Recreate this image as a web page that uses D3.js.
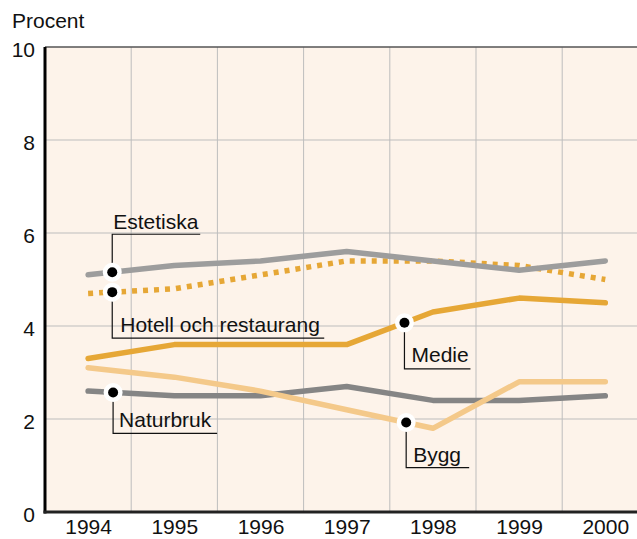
<!DOCTYPE html>
<html>
<head>
<meta charset="utf-8">
<script src="https://cdn.jsdelivr.net/npm/d3@7"></script>
<style>
  body { margin: 0; background: #fff; }
  svg { display: block; font-family: "Liberation Sans", Arial, sans-serif; }
</style>
</head>
<body>
<svg id="chart"></svg>
<script>
const width = 637;
const height = 539;

// data
const years = [1994, 1995, 1996, 1997, 1998, 1999, 2000];
const estetiska = [5.1, 5.3, 5.4, 5.6, 5.4, 5.2, 5.4];
const hotell = [4.7, 4.8, 5.1, 5.4, 5.4, 5.3, 5.0];
const medie = [3.3, 3.6, 3.6, 3.6, 4.3, 4.6, 4.5];
const bygg = [3.1, 2.9, 2.6, 2.2, 1.8, 2.8, 2.8];
const naturbruk = [2.6, 2.5, 2.5, 2.7, 2.4, 2.4, 2.5];
const yTicks = [0, 2, 4, 6, 8, 10];

const series = [
  {name: "Naturbruk", values: naturbruk, color: "#858585", dash: null},
  {name: "Bygg", values: bygg, color: "#f4c98a", dash: null},
  {name: "Medie", values: medie, color: "#e6a736", dash: null},
  {name: "Hotell och restaurang", values: hotell, color: "#e6a736", dash: "5,6"},
  {name: "Estetiska", values: estetiska, color: "#9d9d9d", dash: null}
];

// where the callout dot sits (fractional year) and how the label hangs off it
const callouts = [
  {name: "Estetiska", at: 1994.28, drop: -38, len: 88, tx: 1, ty: -5},
  {name: "Hotell och restaurang", at: 1994.28, drop: 46, len: 212, tx: 8, ty: -6},
  {name: "Naturbruk", at: 1994.29, drop: 41, len: 104, tx: 6, ty: -6},
  {name: "Medie", at: 1997.67, drop: 46, len: 66, tx: 7, ty: -7},
  {name: "Bygg", at: 1997.69, drop: 45, len: 63, tx: 7, ty: -6}
];

const margin = {left: 45, top: 47, bottom: 27};
const step = 86.2;
const fontSize = "21px";

let svg = d3.select("#chart")
  .attr("width", width)
  .attr("height", height);

const x = d3.scalePoint()
  .domain(years)
  .range([margin.left + step / 2, margin.left + step * 6.5]);

const y = d3.scaleLinear()
  .domain([0, 10])
  .range([height - margin.bottom, margin.top]);

const xRight = margin.left + step * years.length;

// background
svg.append("rect")
  .attr("x", margin.left)
  .attr("y", y(10))
  .attr("width", xRight - margin.left)
  .attr("height", y(0) - y(10))
  .style("fill", "#fdf3ea");

// grid
svg.append("g")
  .selectAll("line")
  .data(yTicks.slice(1, -1))
  .join("line")
  .attr("x1", margin.left)
  .attr("x2", xRight)
  .attr("y1", d => y(d))
  .attr("y2", d => y(d))
  .style("stroke", "#bdbdbd")
  .style("stroke-width", 1);

svg.append("g")
  .selectAll("line")
  .data(years.slice(0, -1))
  .join("line")
  .attr("x1", d => x(d) + step / 2)
  .attr("x2", d => x(d) + step / 2)
  .attr("y1", y(10))
  .attr("y2", y(0))
  .style("stroke", "#bdbdbd")
  .style("stroke-width", 1);

// top border
svg.append("line")
  .attr("x1", margin.left)
  .attr("x2", width)
  .attr("y1", y(10))
  .attr("y2", y(10))
  .style("stroke", "#555")
  .style("stroke-width", 1.5);

// axes
const yAxis = d3.axisLeft(y).tickValues(yTicks).tickSize(0).tickPadding(10);
svg.append("g")
  .attr("transform", `translate(${margin.left},0)`)
  .call(yAxis)
  .call(g => g.select(".domain").remove())
  .selectAll("text")
  .style("font-size", fontSize)
  .style("fill", "#111")
  .attr("dy", "0.45em");

const xAxis = d3.axisBottom(x).tickSize(0).tickPadding(7).tickFormat(d3.format("d"));
svg.append("g")
  .attr("transform", `translate(0,${y(0)})`)
  .call(xAxis)
  .call(g => g.select(".domain").remove())
  .selectAll("text")
  .style("font-size", fontSize)
  .style("fill", "#111");

svg.append("line")
  .attr("x1", margin.left)
  .attr("x2", margin.left)
  .attr("y1", y(10))
  .attr("y2", y(0) + 1.5)
  .style("stroke", "#000")
  .style("stroke-width", 3);

svg.append("line")
  .attr("x1", margin.left - 1.5)
  .attr("x2", width)
  .attr("y1", y(0))
  .attr("y2", y(0))
  .style("stroke", "#222")
  .style("stroke-width", 3);

svg.append("text")
  .attr("x", 12)
  .attr("y", 28)
  .style("font-size", fontSize)
  .style("fill", "#111")
  .text("Procent");

// lines
const line = d3.line()
  .x((d, i) => x(years[i]))
  .y(d => y(d));

svg.append("g")
  .selectAll("path")
  .data(series)
  .join("path")
  .attr("d", d => line(d.values))
  .style("fill", "none")
  .style("stroke", d => d.color)
  .style("stroke-width", 5.5)
  .style("stroke-linecap", d => d.dash ? "butt" : "round")
  .style("stroke-linejoin", "round")
  .style("stroke-dasharray", d => d.dash);

// callouts
function valueAt(values, t) {
  const i = Math.floor(t - years[0]);
  const f = t - years[0] - i;
  return values[i] + (values[i + 1] - values[i]) * f;
}

const step0 = x(years[1]) - x(years[0]);
const labels = svg.append("g");
callouts.forEach(c => {
  const s = series.find(d => d.name === c.name);
  const cx = x(years[0]) + (c.at - years[0]) * step0;
  const cy = y(valueAt(s.values, c.at));
  const ey = cy + c.drop;
  labels.append("path")
    .attr("d", `M${cx},${cy}V${ey}H${cx + c.len}`)
    .style("fill", "none")
    .style("stroke", "#111")
    .style("stroke-width", 1.2);
  labels.append("circle")
    .attr("cx", cx)
    .attr("cy", cy)
    .attr("r", 5)
    .style("fill", "#000")
    .style("stroke", "#fff")
    .style("stroke-width", 9)
    .style("paint-order", "stroke");
  labels.append("text")
    .attr("x", cx + c.tx)
    .attr("y", ey + c.ty)
    .style("font-size", fontSize)
    .style("fill", "#111")
    .text(c.name);
});
</script>
</body>
</html>
